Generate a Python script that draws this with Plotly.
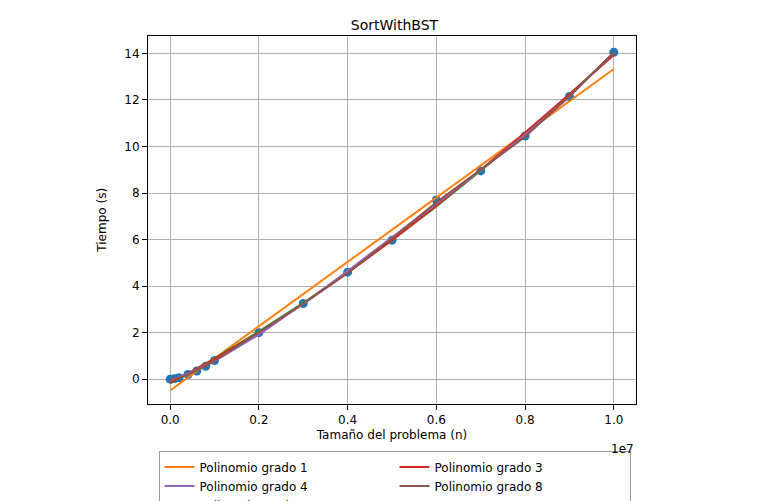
import numpy as np
import plotly.graph_objects as go

sizes = [0, 1e5, 2e5, 4e5, 6e5, 8e5, 1e6, 2e6, 3e6, 4e6, 5e6, 6e6, 7e6, 8e6, 9e6, 1e7]
times = [0.0, 0.02, 0.06, 0.2, 0.35, 0.55, 0.8, 2.0, 3.25, 4.6, 5.97, 7.7, 8.95, 10.45, 12.15, 14.05]
degrees = [1, 2, 3, 4, 8]
colors = {1: "#ff7f0e", 2: "#2ca02c", 3: "#d62728", 4: "#9467bd", 8: "#8c564b"}
legend_rank = {1: 1, 3: 2, 4: 3, 8: 4, 2: 5}
x_ticks = [0, 2e6, 4e6, 6e6, 8e6, 1e7]
x_labels = ["0.0", "0.2", "0.4", "0.6", "0.8", "1.0"]

x = np.array(sizes)
y = np.array(times)
xs = x / 1e7

fig = go.Figure()
fig.add_trace(go.Scatter(x=sizes, y=times, mode="markers", showlegend=False,
                         marker=dict(color="#1f77b4", size=9)))
for d in degrees:
    coef = np.polyfit(xs, y, d)
    fig.add_trace(go.Scatter(x=sizes, y=np.polyval(coef, xs), mode="lines",
                             name=f"Polinomio grado {d}", legendrank=legend_rank[d],
                             line=dict(color=colors[d], width=2)))

axis = dict(showline=True, mirror=True, linecolor="black", ticks="outside",
            gridcolor="#b0b0b0", zeroline=False, tickcolor="black")
fig.update_layout(
    width=773, height=501, paper_bgcolor="white", plot_bgcolor="white",
    margin=dict(l=140, r=145, t=28, b=101),
    font=dict(family="DejaVu Sans", size=12, color="black"),
    title=dict(text="SortWithBST", x=0.5, xanchor="center", y=0.975, font=dict(size=14)),
    xaxis=dict(axis, range=[-5e5, 1.05e7], tickvals=x_ticks, ticktext=x_labels,
               title=dict(text="Tamaño del problema (n)", standoff=4, font=dict(size=12))),
    yaxis=dict(axis, range=[-1.05, 14.75], tickvals=list(range(0, 15, 2)),
               title=dict(text="Tiempo (s)", font=dict(size=12))),
    legend=dict(orientation="h", xref="container", yref="container", x=0.5, xanchor="center",
                y=0.115, yanchor="top", entrywidth=190, bordercolor="#999", borderwidth=1,
                traceorder="normal", tracegroupgap=0),
    annotations=[dict(text="1e7", x=1, xref="paper", y=-0.1, yref="paper",
                      xanchor="right", yanchor="top", showarrow=False)],
)
fig.write_html("out.html")
